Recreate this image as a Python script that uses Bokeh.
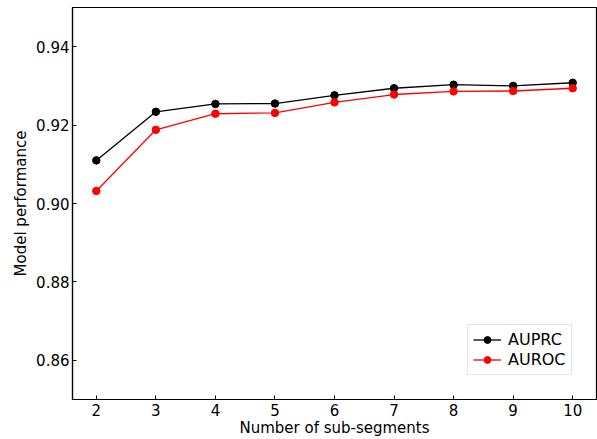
from bokeh.plotting import figure
from bokeh.models import Range1d, FixedTicker, Legend, LegendItem
from bokeh.embed import file_html
from bokeh.resources import INLINE

segments = [2, 3, 4, 5, 6, 7, 8, 9, 10]
auprc = [0.9110, 0.9234, 0.9254, 0.9255, 0.9276, 0.9294, 0.9303, 0.9300, 0.9308]
auroc = [0.9032, 0.9188, 0.9229, 0.9231, 0.9258, 0.9278, 0.9286, 0.9287, 0.9294]
y_ticks = [0.86, 0.88, 0.90, 0.92, 0.94]
x_ticks = segments

FONT = "DejaVu Sans"

p = figure(width=597, height=439, output_backend="svg", toolbar_location=None,
           x_range=Range1d(1.6, 10.4), y_range=Range1d(0.85, 0.95),
           min_border_left=72, min_border_right=1, min_border_top=7, min_border_bottom=40)

p.xgrid.visible = False
p.ygrid.visible = False
p.outline_line_color = "black"
p.outline_line_width = 1.2
p.outline_line_alpha = 1.0

for ax in (p.xaxis[0], p.yaxis[0]):
    ax.major_tick_in = 4
    ax.major_tick_out = 0
    ax.minor_tick_in = 0
    ax.minor_tick_out = 0
    ax.axis_line_color = "black"
    ax.axis_line_width = 1.2
    ax.major_tick_line_color = "black"
    ax.major_label_text_font = FONT
    ax.major_label_text_font_size = "15px"
    ax.major_label_text_color = "black"
    ax.axis_label_text_font = FONT
    ax.axis_label_text_font_size = "15px"
    ax.axis_label_text_font_style = "normal"
    ax.axis_label_text_color = "black"

p.xaxis.ticker = FixedTicker(ticks=x_ticks)
p.yaxis.ticker = FixedTicker(ticks=y_ticks)
p.yaxis.major_label_overrides = {t: f"{t:.2f}" for t in y_ticks}
p.xaxis.axis_label = "Number of sub-segments"
p.yaxis.axis_label = "Model performance"
p.xaxis.major_label_standoff = 4
p.xaxis.axis_label_standoff = 0
p.yaxis.major_label_standoff = 3
p.yaxis.axis_label_standoff = 3

l1 = p.line(segments, auprc, line_color="black", line_width=1.3)
s1 = p.scatter(segments, auprc, size=7.5, fill_color="black", line_color="black")
l2 = p.line(segments, auroc, line_color="red", line_width=1.3)
s2 = p.scatter(segments, auroc, size=7.5, fill_color="red", line_color="red")

legend = Legend(items=[LegendItem(label="AUPRC", renderers=[l1, s1]),
                       LegendItem(label="AUROC", renderers=[l2, s2])],
                location=(395, 24))
legend.label_text_font = FONT
legend.label_text_font_size = "16px"
legend.label_text_color = "black"
legend.glyph_width = 28
legend.glyph_height = 17
legend.label_height = 17
legend.label_standoff = 7
legend.spacing = 1
legend.padding = 5
legend.margin = 0
legend.border_line_color = "#cccccc"
legend.border_line_width = 1
legend.background_fill_alpha = 0.8
p.add_layout(legend, "center")

open("out.html", "w").write(file_html(p, INLINE))
